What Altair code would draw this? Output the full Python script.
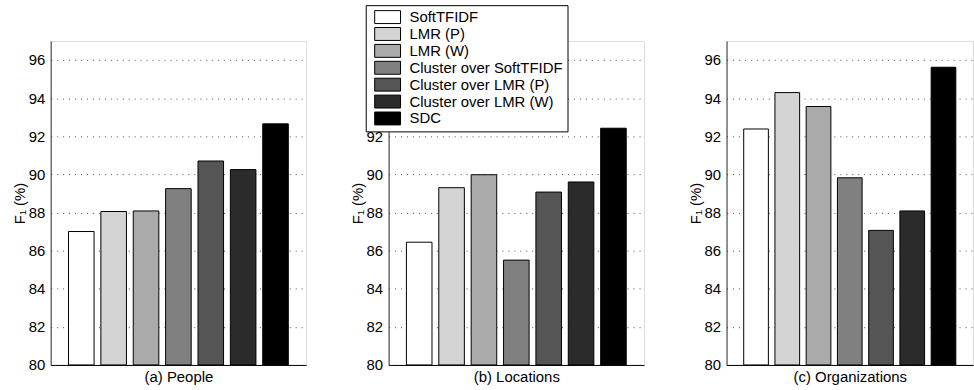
import altair as alt
import pandas as pd

methods = ["SoftTFIDF", "LMR (P)", "LMR (W)", "Cluster over SoftTFIDF",
           "Cluster over LMR (P)", "Cluster over LMR (W)", "SDC"]
panels = ["(a) People", "(b) Locations", "(c) Organizations"]
people = [87.0, 88.05, 88.08, 89.25, 90.7, 90.25, 92.65]
locations = [86.44, 89.3, 89.98, 85.5, 89.07, 89.6, 92.42]
organizations = [92.38, 94.29, 93.56, 89.82, 87.06, 88.08, 95.62]
colors = ["#ffffff", "#d4d4d4", "#aaaaaa", "#808080", "#555555", "#2b2b2b", "#000000"]
y_ticks = [80, 82, 84, 86, 88, 90, 92, 94, 96]
y_min, y_max = 80, 97

FONT = "Liberation Sans"
FS = 15

legend = alt.Legend(
    title=None, orient="none", legendX=317, legendY=-36,
    direction="vertical",
    symbolType="M-1.7333,-0.8667L1.7333,-0.8667L1.7333,0.8667L-1.7333,0.8667Z",
    symbolSize=225, symbolStrokeColor="black",
    symbolStrokeWidth=1, symbolOpacity=1,
    symbolOffset=10, labelOffset=14, labelLimit=400,
    labelExpr="datum.label + '\u00a0\u00a0'",
    labelFont=FONT, labelFontSize=FS, labelColor="black",
    rowPadding=-1.5, padding=4,
    strokeColor="black", fillColor="white")


def panel(name, vals, width):
    d = pd.DataFrame({"method": methods, "value": vals})
    return alt.Chart(d).mark_bar(stroke="black", strokeWidth=1).encode(
        x=alt.X("method:N", sort=methods,
                scale=alt.Scale(paddingInner=0.21, paddingOuter=0.55),
                axis=alt.Axis(labels=False, ticks=False, tickSize=0, title=name,
                              grid=False, domainColor="black", domainWidth=1,
                              titleFont=FONT, titleFontSize=FS, titleColor="black",
                              titleFontWeight="normal", titlePadding=5)),
        y=alt.Y("value:Q",
                scale=alt.Scale(domain=[y_min, y_max], nice=False, zero=False, clamp=True),
                axis=alt.Axis(values=y_ticks, title="F\u2081 (%)", ticks=False,
                              tickSize=0, labelPadding=6, titlePadding=1,
                              grid=True, gridDash=[1, 5], gridColor="#000000",
                              gridOpacity=0.7, gridWidth=1,
                              domainColor="#333333", domainWidth=1,
                              labelFont=FONT, labelFontSize=FS, labelColor="black",
                              titleFont=FONT, titleFontSize=FS, titleColor="black",
                              titleFontWeight="normal")),
        y2=alt.datum(y_min),
        color=alt.Color("method:N", sort=methods,
                        scale=alt.Scale(domain=methods, range=colors),
                        legend=legend),
    ).properties(width=width, height=326)


chart = alt.hconcat(
    panel(panels[0], people, 257),
    panel(panels[1], locations, 257),
    panel(panels[2], organizations, 248),
    spacing=42,
).properties(
    padding={"left": 11, "top": 3, "right": 0, "bottom": 0}
).configure_view(strokeWidth=0).configure(font=FONT)

chart.save("out.html", embed_options={"renderer": "svg", "actions": False})
